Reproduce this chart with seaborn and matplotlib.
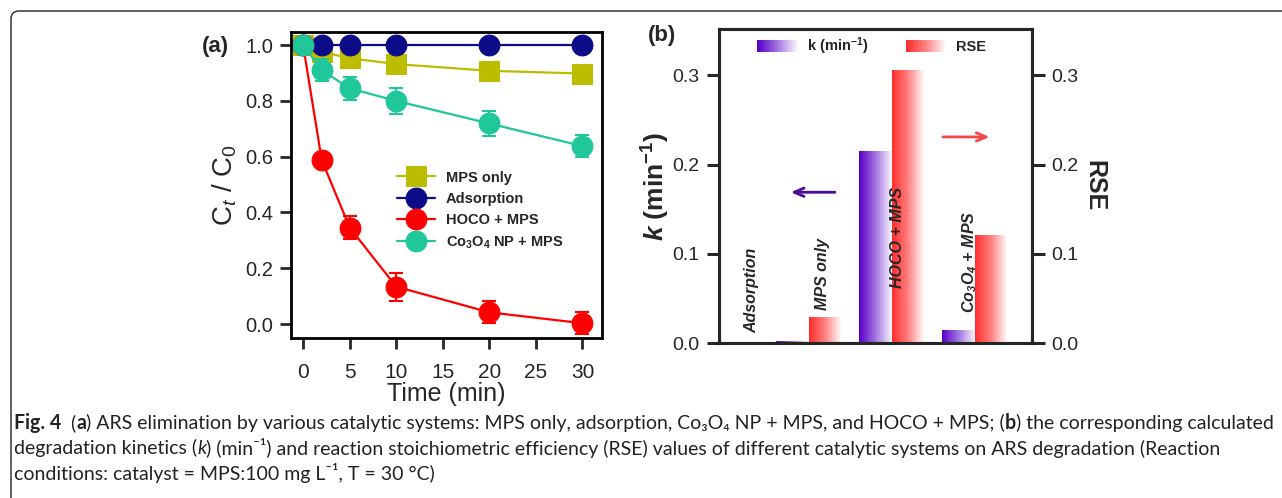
import numpy as np
import pandas as pd
import matplotlib
matplotlib.use('Agg')
import matplotlib.pyplot as plt
import seaborn as sns
from matplotlib.patches import FancyBboxPatch, Rectangle
from matplotlib.colors import LinearSegmentedColormap
from matplotlib.legend_handler import HandlerBase

# (a) ARS elimination, C_t/C_0 vs time
time_min = [0, 2, 5, 10, 20, 30]
mps_only = [1.0, 0.976, 0.953, 0.932, 0.908, 0.898]
adsorption = [1.0, 1.0, 1.0, 1.0, 1.0, 1.0]
hoco_mps = [1.0, 0.588, 0.346, 0.134, 0.042, 0.003]
co3o4_mps = [1.0, 0.910, 0.845, 0.800, 0.719, 0.638]
mps_err = [0.0, 0.01, 0.015, 0.015, 0.015, 0.015]
ads_err = [0.0, 0.0, 0.0, 0.0, 0.0, 0.0]
hoco_err = [0.0, 0.02, 0.041, 0.05, 0.04, 0.04]
co3o4_err = [0.0, 0.039, 0.042, 0.048, 0.045, 0.04]

# (b) k and RSE per system
systems = ['Adsorption', 'MPS only', 'HOCO + MPS', 'Co3O4 + MPS']
sys_labels = ['Adsorption', 'MPS only', 'HOCO + MPS',
              r'$\mathbfit{Co}_\mathbfit{3}\mathbfit{O}_\mathbfit{4}\mathbfit{\ {+}\ MPS}$']
k_vals = [0.0, 0.0022, 0.215, 0.0142]
rse_vals = [0.0, 0.029, 0.306, 0.121]

sns.set_style('white')
plt.rcParams['font.family'] = ['Liberation Sans', 'DejaVu Sans']
plt.rcParams['mathtext.fontset'] = 'custom'
plt.rcParams['mathtext.rm'] = 'Liberation Sans'
plt.rcParams['mathtext.it'] = 'Liberation Sans:italic'
plt.rcParams['mathtext.bf'] = 'Liberation Sans:bold'
plt.rcParams['mathtext.bfit'] = 'Liberation Sans:italic:bold'

fig = plt.figure(figsize=(12.82, 4.98), dpi=100)
W, H = 1282, 498
def ax_rect(l, t, r, b):
    return [l / W, (H - b) / H, (r - l) / W, (b - t) / H]

# ---- panel (a)
ax = fig.add_axes(ax_rect(291, 32, 602, 338))
series = [('MPS only', mps_only, mps_err, '#BDBD00', 's'),
          ('Adsorption', adsorption, ads_err, '#0C0C88', 'o'),
          ('HOCO + MPS', hoco_mps, hoco_err, '#FF0000', 'o'),
          (r'$\mathbf{Co}_\mathbf{3}\mathbf{O}_\mathbf{4}\mathbf{\ NP\ {+}\ MPS}$', co3o4_mps, co3o4_err, '#1FC79A', 'o')]
for name, vals, err, col, mk in series:
    ax.errorbar(time_min, vals, yerr=err, fmt='none', ecolor=col, elinewidth=1.5, capsize=5, capthick=1.5)
    sns.lineplot(x=time_min, y=vals, ax=ax, color=col, marker=mk, markersize=15,
                 markeredgecolor=col, linewidth=1.6, label=name)
ax.set_xlim(-1.3, 32.1)
ax.set_ylim(-0.05, 1.047)
ax.set_xticks([0, 5, 10, 15, 20, 25, 30])
ax.set_yticks([0.0, 0.2, 0.4, 0.6, 0.8, 1.0])
ax.set_yticklabels(['0.0', '0.2', '0.4', '0.6', '0.8', '1.0'])
ax.tick_params(direction='out', length=8, width=2, labelsize=14.5, pad=5, left=True, bottom=True)
ax.tick_params(axis='x', pad=10, labelsize=15)
for s in ax.spines.values():
    s.set_linewidth(2)
    s.set_color('black')
ax.set_xlabel('Time (min)', fontsize=18, labelpad=0)
ax.set_ylabel('C$_t$ / C$_0$', fontsize=20, labelpad=4)
leg = ax.legend(loc='upper left', bbox_to_anchor=(0.3, 0.59), frameon=False,
                handlelength=2.6, labelspacing=0.5, handletextpad=0.7,
                prop={'weight': 'bold', 'size': 10.5})
ax.text(-0.286, 0.954, '(a)', transform=ax.transAxes, fontsize=16, fontweight='bold',
        va='center', ha='left')

# ---- panel (b)
axb = fig.add_axes(ax_rect(719, 29, 1032, 343))
df = pd.DataFrame({'system': systems * 2,
                   'metric': ['k'] * 4 + ['RSE'] * 4,
                   'value': k_vals + rse_vals})
sns.barplot(data=df, x='system', y='value', hue='metric', ax=axb, width=0.8, gap=0.04,
            palette=['#6000C8', '#FF3333'], legend=False, saturation=1)
purple = LinearSegmentedColormap.from_list('pur', ['#5A00C8', '#A070E0', '#F2ECFB'])
red = LinearSegmentedColormap.from_list('red', ['#FF2E2E', '#FF8080', '#FFF8F8'])
grad = np.linspace(0, 1, 64).reshape(1, -1)
bars = list(axb.patches)
for i, p in enumerate(bars):
    h = p.get_height()
    if h <= 0:
        continue
    cm = purple if i < 4 else red
    x0 = p.get_x()
    im = axb.imshow(grad, cmap=cm, aspect='auto', extent=[x0, x0 + p.get_width(), 0, h],
                    zorder=p.get_zorder() + 0.1)
    im.set_clip_path(p)
axb.set_xlim(-0.085, 3.70)
axb.set_ylim(0, 0.352)
axb.set_xticks([])
axb.set_xlabel('')
axb.set_yticks([0.0, 0.1, 0.2, 0.3])
axb.set_yticklabels(['0.0', '0.1', '0.2', '0.3'])
axb.tick_params(axis='y', direction='out', length=9, width=2.2, labelsize=14, pad=5, left=True)
for s in axb.spines.values():
    s.set_linewidth(2.2)
    s.set_color('black')
axb.set_ylabel(r'$\mathbfit{k}\mathbf{\ (min}^\mathbf{-1}\mathbf{)}$', fontsize=19, labelpad=0)

axr = axb.twinx()
axr.set_ylim(0, 0.352)
axr.set_yticks([0.0, 0.1, 0.2, 0.3])
axr.set_yticklabels(['0.0', '0.1', '0.2', '0.3'])
axr.tick_params(axis='y', direction='out', length=9, width=2.2, labelsize=14, pad=5, right=True)
axr.set_ylabel('RSE', fontsize=18, fontweight='bold', rotation=270, labelpad=20)
for s in axr.spines.values():
    s.set_linewidth(2.2)

# category labels inside the bars
lab_x = [0.31, 1.17, 2.07, 2.95]
lab_y = [0.011, 0.037, 0.062, 0.034]
for name, lx, ly in zip(sys_labels, lab_x, lab_y):
    axb.text(lx, ly, name, rotation=90, ha='center', va='bottom', fontsize=11.5,
             fontweight='bold', fontstyle='italic', zorder=5)

axb.annotate('', xy=(0.75, 0.169), xytext=(1.35, 0.169),
             arrowprops=dict(arrowstyle='->,head_length=0.7,head_width=0.3', color='#4B0A96', lw=2))
axb.annotate('', xy=(3.22, 0.231), xytext=(2.59, 0.231),
             arrowprops=dict(arrowstyle='->,head_length=0.7,head_width=0.3', color='#F04848', lw=2))

class GradHandler(HandlerBase):
    def __init__(self, cmap):
        super().__init__()
        self.cmap = cmap
    def create_artists(self, legend, orig_handle, xdescent, ydescent, width, height, fontsize, trans):
        n = 24
        arts = []
        for i in range(n):
            arts.append(Rectangle((-xdescent + width * i / n, -ydescent), width / n * 1.1, height,
                                  facecolor=self.cmap(i / (n - 1)), edgecolor='none', transform=trans))
        return arts

hk = Rectangle((0, 0), 1, 1)
hr = Rectangle((0, 0), 1, 1)
legb = axb.legend([hk, hr], [r'$\mathbf{k\ (min}^\mathbf{-1}\mathbf{)}$', 'RSE'], ncol=2, loc='upper left',
                  bbox_to_anchor=(0.08, 1.02), frameon=False, handlelength=2.7, handleheight=0.9,
                  columnspacing=2.6, handletextpad=0.7,
                  handler_map={hk: GradHandler(purple), hr: GradHandler(red)},
                  prop={'weight': 'bold', 'size': 10.5})
axb.text(-0.227, 0.978, '(b)', transform=axb.transAxes, fontsize=16, fontweight='bold',
         va='center', ha='left')

# ---- figure frame and caption
frame = FancyBboxPatch((0.11, -1.0), 20, (H - 11) / 100 + 1.0,
                       boxstyle='round,pad=0,rounding_size=0.08',
                       transform=fig.dpi_scale_trans, facecolor='none',
                       edgecolor='#222222', lw=1.0)
fig.patches.append(frame)

cap_lines = [
    [('Fig. 4', 'bold', 'normal'), ('  (', 'normal', 'normal'), ('a', 'bold', 'normal'),
     (') ARS elimination by various catalytic systems: MPS only, adsorption, Co\u2083O\u2084 NP + MPS, and HOCO + MPS; (',
      'normal', 'normal'),
     ('b', 'bold', 'normal'), (') the corresponding calculated', 'normal', 'normal')],
    [('degradation kinetics (', 'normal', 'normal'), ('k', 'normal', 'italic'),
     (') (min\u207b\u00b9) and reaction stoichiometric efficiency (RSE) values of different catalytic systems on ARS degradation (Reaction',
      'normal', 'normal')],
    [('conditions: catalyst = MPS:100 mg L\u207b\u00b9, T = 30 \u00b0C)', 'normal', 'normal')],
]
renderer = fig.canvas.get_renderer()
for i, pieces in enumerate(cap_lines):
    x = 14.0
    y = H - (423 + 25 * i)
    for txt, wt, st in pieces:
        t = fig.text(x / W, y / H, txt, fontsize=14.05, family=['Lato', 'DejaVu Sans'],
                     fontweight=wt, fontstyle=st, color='#222222', va='center', ha='left')
        bb = t.get_window_extent(renderer)
        x = bb.x1

fig.savefig('out.png', dpi=100)
